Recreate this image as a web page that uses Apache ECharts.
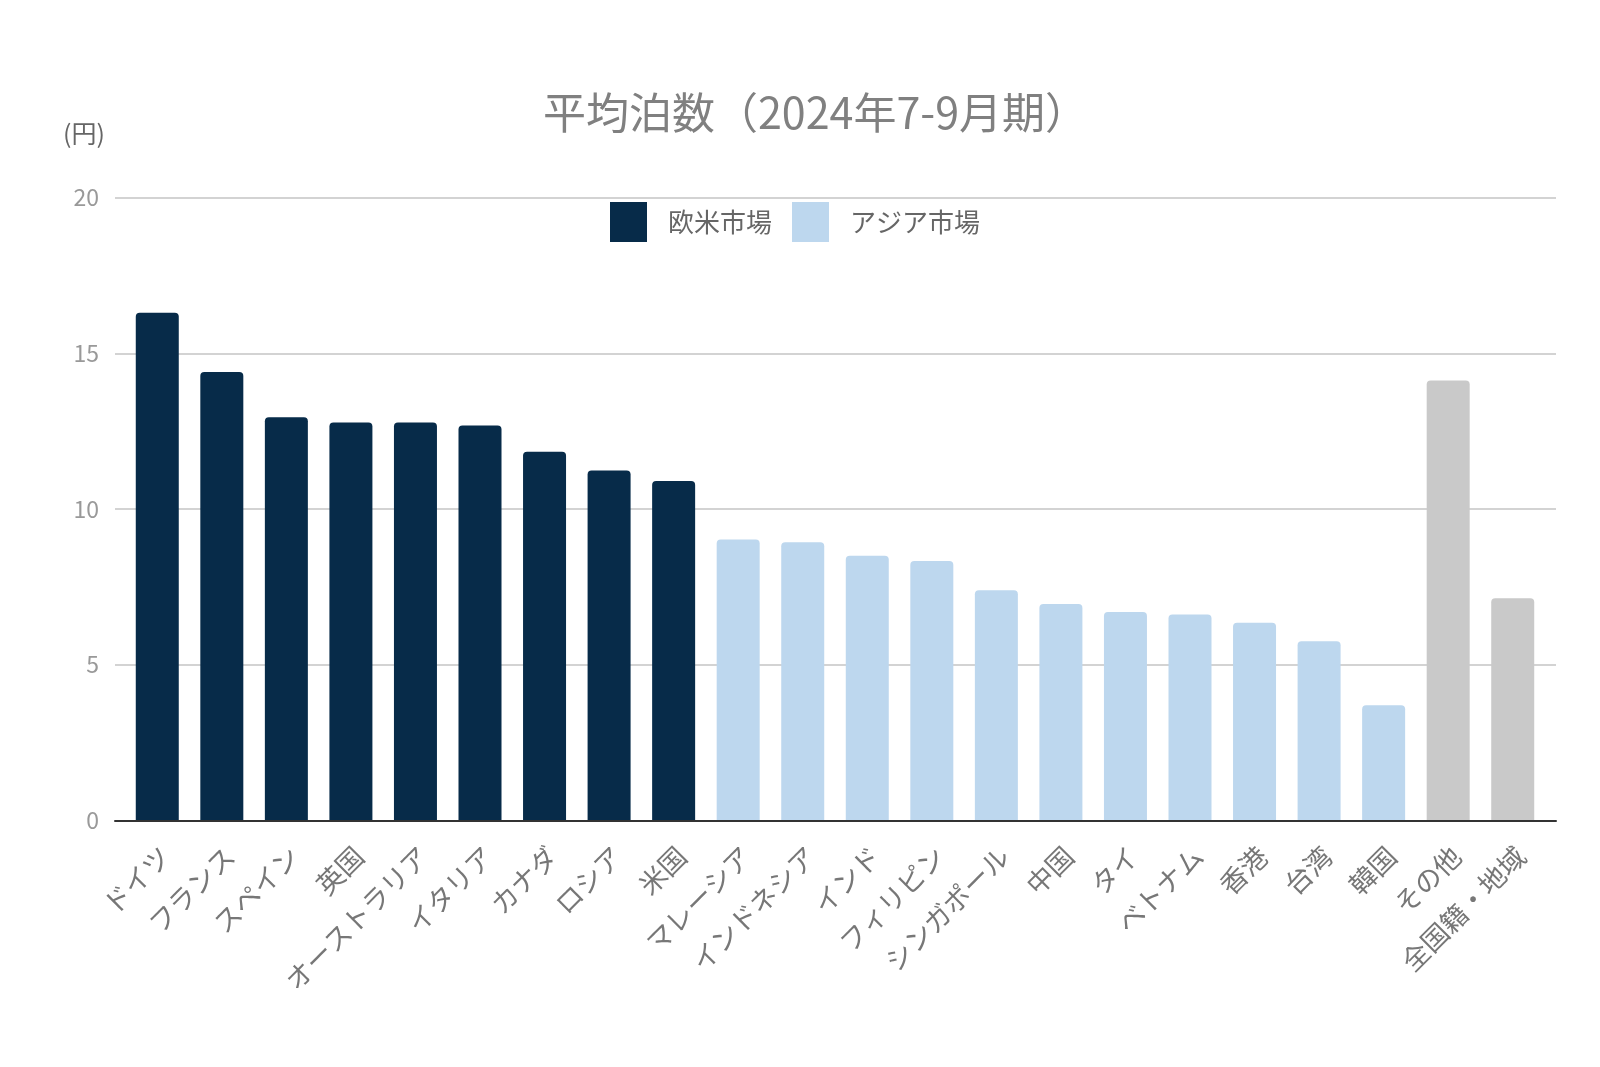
<!DOCTYPE html>
<html>
<head>
<meta charset="utf-8">
<script src="https://cdn.jsdelivr.net/npm/echarts@6/dist/echarts.min.js"></script>
<style>html,body{margin:0;padding:0;background:#fff}#c{width:1600px;height:1067px}</style>
</head>
<body>
<div id="c"></div>
<script>
const westCats = ['ドイツ','フランス','スペイン','英国','オーストラリア','イタリア','カナダ','ロシア','米国'];
const westVals = [16.3, 14.4, 12.95, 12.78, 12.78, 12.68, 11.84, 11.24, 10.9];
const asiaCats = ['マレーシア','インドネシア','インド','フィリピン','シンガポール','中国','タイ','ベトナム','香港','台湾','韓国'];
const asiaVals = [9.02, 8.93, 8.5, 8.33, 7.39, 6.95, 6.69, 6.61, 6.35, 5.75, 3.7];
const otherCats = ['その他','全国籍・地域'];
const otherVals = [14.13, 7.13];
const yTicks = [0, 5, 10, 15, 20];

const categories = westCats.concat(asiaCats, otherCats);
const n = categories.length;
function place(vals, offset) {
  const arr = new Array(n).fill(null);
  vals.forEach((v, i) => { arr[offset + i] = v; });
  return arr;
}
const westData = place(westVals, 0);
const asiaData = place(asiaVals, westVals.length);
const otherData = place(otherVals, westVals.length + asiaVals.length);

const FONT = '"Noto Sans CJK JP", "Noto Sans", sans-serif';
const chart = echarts.init(document.getElementById('c'), null, {renderer: 'canvas'});
const barStyle = (c) => ({color: c, borderRadius: [4, 4, 0, 0]});
const yMin = yTicks[0], yMax = yTicks[yTicks.length - 1];
chart.setOption({
  backgroundColor: '#ffffff',
  animation: false,
  textStyle: {fontFamily: FONT},
  title: [
    {text: '平均泊数（2024年7-9月期）', left: 538, top: 86,
     textStyle: {fontFamily: FONT, fontSize: 43, fontWeight: 'normal', color: '#808080'}},
    {text: '(円)', left: 58, top: 116,
     textStyle: {fontFamily: FONT, fontSize: 25, fontWeight: 'normal', color: '#666666'}}
  ],
  legend: {
    data: ['欧米市場', 'アジア市場'],
    left: 605, top: 197,
    itemWidth: 37, itemHeight: 40, itemGap: 20,
    icon: 'rect',
    textStyle: {fontFamily: FONT, fontSize: 26, color: '#666666', padding: [0, 0, 0, 16]}
  },
  grid: [
    {left: 115, right: 44, top: 197.6, bottom: 246.6},
    {left: 125, right: 55, top: 197.6, bottom: 246.6},
    {left: 133, right: 47, top: 197.6, bottom: 246.6}
  ],
  xAxis: [
    {type: 'category', gridIndex: 0, data: categories, z: 5,
     axisLine: {show: true, lineStyle: {color: '#333333', width: 2}},
     axisTick: {show: false}, axisLabel: {show: false}, splitLine: {show: false}},
    {type: 'category', gridIndex: 1, data: categories,
     axisLine: {show: false}, axisTick: {show: false}, axisLabel: {show: false}},
    {type: 'category', gridIndex: 2, data: categories,
     axisLine: {show: false}, axisTick: {show: false},
     axisLabel: {interval: 0, rotate: 45, margin: 31, fontFamily: FONT, fontSize: 27, color: '#777777'}}
  ],
  yAxis: [
    {type: 'value', gridIndex: 0, min: yMin, max: yMax, interval: 5,
     axisLine: {show: false}, axisTick: {show: false},
     axisLabel: {margin: 16, fontFamily: FONT, fontSize: 23, color: '#999999'},
     splitLine: {lineStyle: {color: '#d3d3d3', width: 2}}},
    {type: 'value', gridIndex: 1, min: yMin, max: yMax, interval: 5, show: false, splitLine: {show: false}},
    {type: 'value', gridIndex: 2, min: yMin, max: yMax, interval: 5, show: false, splitLine: {show: false}}
  ],
  series: [
    {name: '欧米市場', type: 'bar', xAxisIndex: 1, yAxisIndex: 1, data: westData, barWidth: 43, barGap: '-100%', itemStyle: barStyle('#072b49')},
    {name: 'アジア市場', type: 'bar', xAxisIndex: 1, yAxisIndex: 1, data: asiaData, barWidth: 43, barGap: '-100%', itemStyle: barStyle('#bdd7ee')},
    {name: 'その他', type: 'bar', xAxisIndex: 1, yAxisIndex: 1, data: otherData, barWidth: 43, barGap: '-100%', itemStyle: barStyle('#c9c9c9')}
  ]
});
</script>
</body>
</html>
